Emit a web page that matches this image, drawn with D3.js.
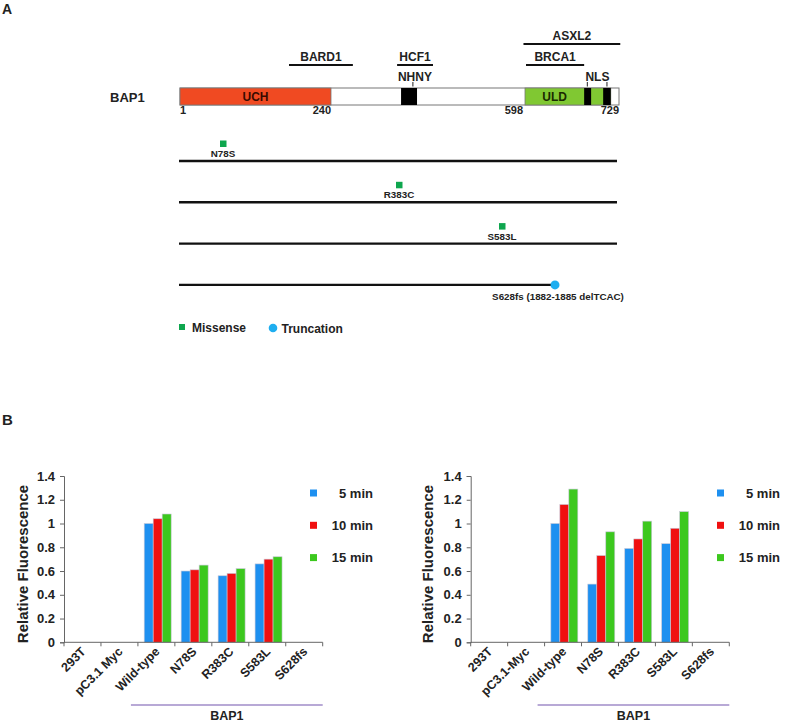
<!DOCTYPE html>
<html><head><meta charset="utf-8">
<script src="https://cdn.jsdelivr.net/npm/d3@7"></script>
<style>
html,body{margin:0;padding:0;background:#fff;}
svg text{font-family:"Liberation Sans",Arial,sans-serif;font-weight:bold;fill:#222;}
</style></head>
<body>
<svg id="fig" width="800" height="726"></svg>
<script>
// ---------- Panel A data ----------
const proteinName = "BAP1";
const proteinLength = 729;
const domainLabels = ["UCH", "ULD"];
const domainStarts = [1, 598];
const domainEnds = [240, 716];
const domainColors = ["#f04a22", "#80c832"];
const motifStarts = [387, 674, 704];
const motifEnds = [418, 685, 716];
const motifLabels = ["NHNY", "NLS"];
const motifLabelPos = [414, 695];
const motifTickPos = [410, 679, 710];
const interactionNames = ["ASXL2", "BARD1", "HCF1", "BRCA1"];
const interactionStarts = [597, 177, 379, 599];
const interactionEnds = [731, 286, 449, 674];
const interactionRows = [0, 1, 1, 1];
const positionLabels = ["1", "240", "598", "729"];
const positionValues = [1, 240, 598, 729];
const mutationNames = ["N78S", "R383C", "S583L", "S628fs (1882-1885 delTCAC)"];
const mutationPos = [78, 383, 583, 628];
const mutationTypes = ["Missense", "Missense", "Missense", "Truncation"];
const mutationTypeNames = ["Missense", "Truncation"];
// schematic (non-proportional) residue axis of the drawing
const schematicKnots = [1, 78, 240, 383, 583, 598, 628, 729];

// ---------- Panel B data ----------
const categoriesLeft = ["293T", "pC3.1 Myc", "Wild-type", "N78S", "R383C", "S583L", "S628fs"];
const categoriesRight = ["293T", "pC3.1-Myc", "Wild-type", "N78S", "R383C", "S583L", "S628fs"];
const seriesNames = ["5 min", "10 min", "15 min"];
const seriesColors = ["#1e90f0", "#f01010", "#3cc81e"];
const left5 = [0, 0, 1.00, 0.60, 0.56, 0.66, 0];
const left10 = [0, 0, 1.04, 0.61, 0.58, 0.70, 0];
const left15 = [0, 0, 1.08, 0.65, 0.62, 0.72, 0];
const right5 = [0, 0, 1.00, 0.49, 0.79, 0.83, 0];
const right10 = [0, 0, 1.16, 0.73, 0.87, 0.96, 0];
const right15 = [0, 0, 1.29, 0.93, 1.02, 1.10, 0];
const yTicks = [0, 0.2, 0.4, 0.6, 0.8, 1, 1.2, 1.4];
const groupName = "BAP1";
const groupFirst = "Wild-type";
const yTitle = "Relative Fluorescence";

const svg = d3.select("#fig");

// ================= Panel A =================
svg.append("text").attr("x", 2).attr("y", 13.5).style("font-size", "14px").text("A");

const xr = d3.scaleLinear().domain(schematicKnots)
  .range([180, 223, 331, 399, 502, 525, 555, 619]);
const barTop = 88, barH = 17;
const A = svg.append("g");

A.append("text").attr("x", 110).attr("y", barTop + 14).style("font-size", "13px").text(proteinName);
A.append("rect").attr("x", xr(1)).attr("y", barTop)
  .attr("width", xr(proteinLength) - xr(1)).attr("height", barH)
  .attr("fill", "#fff").attr("stroke", "#777").attr("stroke-width", 1);
domainLabels.forEach((d, i) => {
  A.append("rect").attr("x", xr(domainStarts[i])).attr("y", barTop)
    .attr("width", xr(domainEnds[i]) - xr(domainStarts[i])).attr("height", barH)
    .attr("fill", domainColors[i]).attr("stroke", "#777").attr("stroke-width", 0.8);
});
motifStarts.forEach((s, i) => {
  A.append("rect").attr("x", xr(s)).attr("y", barTop)
    .attr("width", xr(motifEnds[i]) - xr(s)).attr("height", barH).attr("fill", "#000");
});
A.append("text").attr("x", (xr(domainStarts[0]) + xr(domainEnds[0])) / 2).attr("y", barTop + 13)
  .attr("text-anchor", "middle").style("font-size", "12px").style("fill", "#3a0a00").text(domainLabels[0]);
A.append("text").attr("x", (xr(domainStarts[1]) + xr(motifStarts[1])) / 2).attr("y", barTop + 13)
  .attr("text-anchor", "middle").style("font-size", "12px").style("fill", "#1a2a00").text(domainLabels[1]);
motifLabels.forEach((m, i) => {
  A.append("text").attr("x", xr(motifLabelPos[i])).attr("y", 80.5)
    .attr("text-anchor", "middle").style("font-size", "12px").text(m);
});
motifTickPos.forEach(p => {
  A.append("line").attr("x1", xr(p)).attr("x2", xr(p)).attr("y1", 82).attr("y2", 86.5)
    .attr("stroke", "#222").attr("stroke-width", 1);
});
positionLabels.forEach((p, i) => {
  const anchor = i === 0 ? "start" : "end";
  const dx = i === 2 ? -2 : 0;
  A.append("text").attr("x", xr(positionValues[i]) + dx).attr("y", 114)
    .attr("text-anchor", anchor).style("font-size", "11px").text(p);
});
const rowY = [44, 65];
interactionNames.forEach((n, i) => {
  const yy = rowY[interactionRows[i]];
  const x1 = xr(interactionStarts[i]), x2 = xr(interactionEnds[i]);
  A.append("line").attr("x1", x1).attr("x2", x2).attr("y1", yy).attr("y2", yy)
    .attr("stroke", "#111").attr("stroke-width", 2);
  A.append("text").attr("x", (x1 + x2) / 2).attr("y", yy - 4)
    .attr("text-anchor", "middle").style("font-size", "12px").text(n);
});

const rowScale = d3.scaleLinear().domain([0, 1]).range([161, 202.3]);
mutationNames.forEach((m, i) => {
  const yy = rowScale(i);
  const trunc = mutationTypes[i] === "Truncation";
  const xEnd = trunc ? xr(mutationPos[i]) : xr(proteinLength) - 2;
  A.append("line").attr("x1", xr(1) - 1).attr("x2", xEnd).attr("y1", yy).attr("y2", yy)
    .attr("stroke", "#111").attr("stroke-width", 2.4);
  const mx = xr(mutationPos[i]);
  if (trunc) {
    A.append("circle").attr("cx", mx).attr("cy", yy).attr("r", 4.5).attr("fill", "#1eaef0");
    A.append("text").attr("x", mx + 3).attr("y", yy + 15).attr("text-anchor", "middle")
      .style("font-size", "9.8px").text(m);
  } else {
    A.append("rect").attr("x", mx - 3).attr("y", yy - 20.5).attr("width", 6.5).attr("height", 6.5)
      .attr("fill", "#0ea64e");
    A.append("text").attr("x", mx).attr("y", yy - 4).attr("text-anchor", "middle")
      .style("font-size", "9.8px").text(m);
  }
});
A.append("rect").attr("x", 179).attr("y", 324).attr("width", 6).attr("height", 6).attr("fill", "#0ea64e");
A.append("text").attr("x", 192).attr("y", 331.5).style("font-size", "12px").text(mutationTypeNames[0]);
A.append("circle").attr("cx", 273).attr("cy", 328).attr("r", 4.3).attr("fill", "#1eaef0");
A.append("text").attr("x", 281.5).attr("y", 332.5).style("font-size", "12px").text(mutationTypeNames[1]);

// ================= Panel B =================
svg.append("text").attr("x", 2).attr("y", 425).style("font-size", "15px").text("B");

const y = d3.scaleLinear().domain([0, 1.4]).range([642.3, 476]);

function barChart(cats, vals, x0, x1, titleX, legendX) {
  const g = svg.append("g");
  const x = d3.scaleBand().domain(cats).range([x0, x1]).padding(0);
  const bw = x.bandwidth();
  const xs = d3.scaleBand().domain(seriesNames).range([bw * 0.17, bw * 0.9]).padding(0);
  seriesNames.forEach((s, si) => {
    g.selectAll(null).data(cats.map((c, ci) => ({ c, v: vals[si][ci] })).filter(d => d.v > 0))
      .join("rect")
      .attr("x", d => x(d.c) + xs(s)).attr("y", d => y(d.v))
      .attr("width", xs.bandwidth()).attr("height", d => y(0) - y(d.v))
      .attr("fill", seriesColors[si]).attr("stroke", "#c8c8d8").attr("stroke-width", 0.6);
  });
  const ya = g.append("g").attr("transform", `translate(${x0},0)`)
    .call(d3.axisLeft(y).tickValues(yTicks).tickSize(4).tickPadding(5).tickFormat(d3.format("~g")));
  ya.select(".domain").attr("stroke", "#666");
  ya.selectAll(".tick line").attr("stroke", "#666");
  ya.selectAll(".tick text").style("font-size", "13px").style("font-family", "Liberation Sans, Arial")
    .style("font-weight", "bold").attr("fill", "#222");
  g.append("line").attr("x1", x0).attr("x2", x1).attr("y1", y(0)).attr("y2", y(0)).attr("stroke", "#666");
  const bounds = cats.map(c => x(c)).concat([x1]);
  g.selectAll(null).data(bounds).join("line")
    .attr("x1", d => d).attr("x2", d => d).attr("y1", y(0)).attr("y2", y(0) + 4).attr("stroke", "#666");
  g.selectAll(null).data(cats).join("text")
    .attr("transform", d => `translate(${x(d) + bw / 2 + 4},${y(0) + 10}) rotate(-45)`)
    .attr("text-anchor", "end").style("font-size", "12.5px").text(d => d);
  g.append("text").attr("transform", `translate(${titleX},564) rotate(-90)`)
    .attr("text-anchor", "middle").style("font-size", "15px").text(yTitle);
  g.append("line").attr("x1", x(groupFirst) - 7).attr("x2", x1).attr("y1", 705).attr("y2", 705)
    .attr("stroke", "#a08cc8").attr("stroke-width", 1.5);
  g.append("text").attr("x", (x(groupFirst) - 7 + x1) / 2).attr("y", 720)
    .attr("text-anchor", "middle").style("font-size", "12.5px").text(groupName);
  seriesNames.forEach((s, si) => {
    const ly = 493 + si * 32.3;
    g.append("rect").attr("x", legendX).attr("y", ly - 3.5).attr("width", 7).attr("height", 7)
      .attr("fill", seriesColors[si]);
    g.append("text").attr("x", legendX + 63).attr("y", ly + 4.5).attr("text-anchor", "end")
      .style("font-size", "13px").text(s);
  });
}

barChart(categoriesLeft, [left5, left10, left15], 64, 322.7, 28, 310);
barChart(categoriesRight, [right5, right10, right15], 470.7, 729.3, 433, 717);
</script>
</body></html>
